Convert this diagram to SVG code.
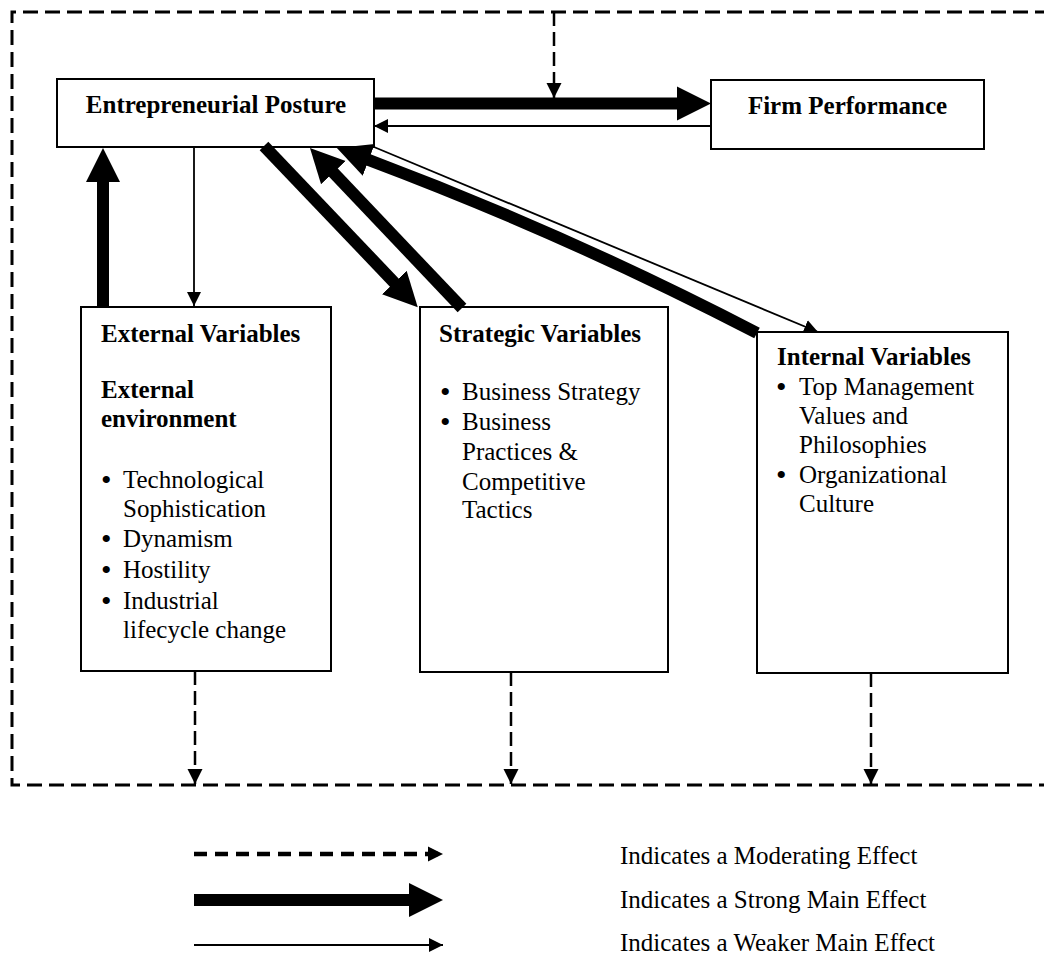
<svg xmlns="http://www.w3.org/2000/svg" width="1044" height="954" viewBox="0 0 1044 954">
  <style>
    .box { fill: #fff; stroke: #000; stroke-width: 2; }
    .t { font-family: "Liberation Serif", "Times New Roman", serif; font-size: 25px; fill: #000; }
    .b { font-weight: bold; }
    .bul { font-family: "Liberation Serif", "Times New Roman", serif; font-size: 30px; fill: #000; }
    .frame { fill: none; stroke: #000; stroke-width: 3; stroke-dasharray: 15 7; }
    .mod { fill: none; stroke: #000; stroke-width: 2.5; stroke-dasharray: 14 6; }
    .modkey { fill: none; stroke: #000; stroke-width: 4.5; stroke-dasharray: 13 8; }
    .strong { fill: none; stroke: #000; stroke-width: 12; }
    .weak { fill: none; stroke: #000; stroke-width: 1.8; }
  </style>
  <defs>
    <marker id="strongHead" markerUnits="userSpaceOnUse" viewBox="-1 -18 36 36" markerWidth="36" markerHeight="36" refX="0" refY="0" orient="auto">
      <path d="M-1,-17 L33,0 L-1,17 Z" fill="#000"/>
    </marker>
    <marker id="weakHead" markerUnits="userSpaceOnUse" viewBox="0 -8 16 16" markerWidth="16" markerHeight="16" refX="14" refY="0" orient="auto">
      <path d="M0,-7 L14,0 L0,7 Z" fill="#000"/>
    </marker>
    <marker id="modHead" markerUnits="userSpaceOnUse" viewBox="0 -9 18 18" markerWidth="18" markerHeight="18" refX="15" refY="0" orient="auto">
      <path d="M0,-7.5 L15,0 L0,7.5 Z" fill="#000"/>
    </marker>
  </defs>

  <rect width="1044" height="954" fill="#fff"/>

  <!-- dashed moderating frame, open to the right -->
  <path class="frame" d="M1050,12 H12 V785 H1050"/>

  <g id="entrepreneurial-posture">
    <rect class="box" x="57" y="79" width="317" height="68"/>
    <text class="t b" x="216" y="113" text-anchor="middle">Entrepreneurial Posture</text>
  </g>

  <g id="firm-performance">
    <rect class="box" x="711" y="80" width="273" height="69"/>
    <text class="t b" x="847.5" y="114" text-anchor="middle">Firm Performance</text>
  </g>

  <g id="external-variables">
    <rect class="box" x="81" y="307" width="250" height="364"/>
    <text class="t b" x="101" y="342">External Variables</text>
    <text class="t b" x="101" y="398">External</text>
    <text class="t b" x="101" y="427">environment</text>
    <text class="bul" x="101" y="490">•</text>
    <text class="bul" x="101" y="549">•</text>
    <text class="bul" x="101" y="580">•</text>
    <text class="bul" x="101" y="611">•</text>
    <text class="t" x="123" y="488">Technological</text>
    <text class="t" x="123" y="517">Sophistication</text>
    <text class="t" x="123" y="547">Dynamism</text>
    <text class="t" x="123" y="578">Hostility</text>
    <text class="t" x="123" y="609">Industrial</text>
    <text class="t" x="123" y="638">lifecycle change</text>
  </g>

  <g id="strategic-variables">
    <rect class="box" x="420" y="307" width="248" height="365"/>
    <text class="t b" x="439" y="342">Strategic Variables</text>
    <text class="bul" x="440" y="402">•</text>
    <text class="bul" x="440" y="432">•</text>
    <text class="t" x="462" y="400">Business Strategy</text>
    <text class="t" x="462" y="430">Business</text>
    <text class="t" x="462" y="460">Practices &amp;</text>
    <text class="t" x="462" y="490">Competitive</text>
    <text class="t" x="462" y="518">Tactics</text>
  </g>

  <g id="internal-variables">
    <rect class="box" x="757" y="332" width="251" height="341"/>
    <text class="t b" x="777" y="365">Internal Variables</text>
    <text class="bul" x="776" y="397">•</text>
    <text class="bul" x="776" y="485">•</text>
    <text class="t" x="799" y="395">Top Management</text>
    <text class="t" x="799" y="424">Values and</text>
    <text class="t" x="799" y="453">Philosophies</text>
    <text class="t" x="799" y="483">Organizational</text>
    <text class="t" x="799" y="512">Culture</text>
  </g>

  <g id="connectors">
    <!-- strong main effects -->
    <path class="strong" d="M374,103.5 H678" marker-end="url(#strongHead)"/>
    <path class="strong" d="M103,307 V181" marker-end="url(#strongHead)"/>
    <path class="strong" d="M264,146 L395,283.3" marker-end="url(#strongHead)"/>
    <path class="strong" d="M462,308 L332.7,171.9" marker-end="url(#strongHead)"/>
    <path class="strong" d="M757,333 Q566,234 367.8,159.6" marker-end="url(#strongHead)"/>
    <!-- weaker main effects -->
    <path class="weak" d="M711,126 H374" marker-end="url(#weakHead)"/>
    <path class="weak" d="M194,147 V306" marker-end="url(#weakHead)"/>
    <path class="weak" d="M374,147 L818,332" marker-end="url(#weakHead)"/>
    <!-- moderating effects -->
    <path class="mod" d="M554,12 V98" marker-end="url(#modHead)"/>
    <path class="mod" d="M195,671 V784" marker-end="url(#modHead)"/>
    <path class="mod" d="M511,672 V784" marker-end="url(#modHead)"/>
    <path class="mod" d="M871,673 V784" marker-end="url(#modHead)"/>
  </g>

  <g id="legend">
    <path class="modkey" d="M194,854 H443" marker-end="url(#modHead)"/>
    <path class="strong" d="M194,900 H410" marker-end="url(#strongHead)"/>
    <path class="weak" d="M194,945 H443" marker-end="url(#weakHead)"/>
    <text class="t" x="620" y="864">Indicates a Moderating Effect</text>
    <text class="t" x="620" y="908">Indicates a Strong Main Effect</text>
    <text class="t" x="620" y="951">Indicates a Weaker Main Effect</text>
  </g>
</svg>
